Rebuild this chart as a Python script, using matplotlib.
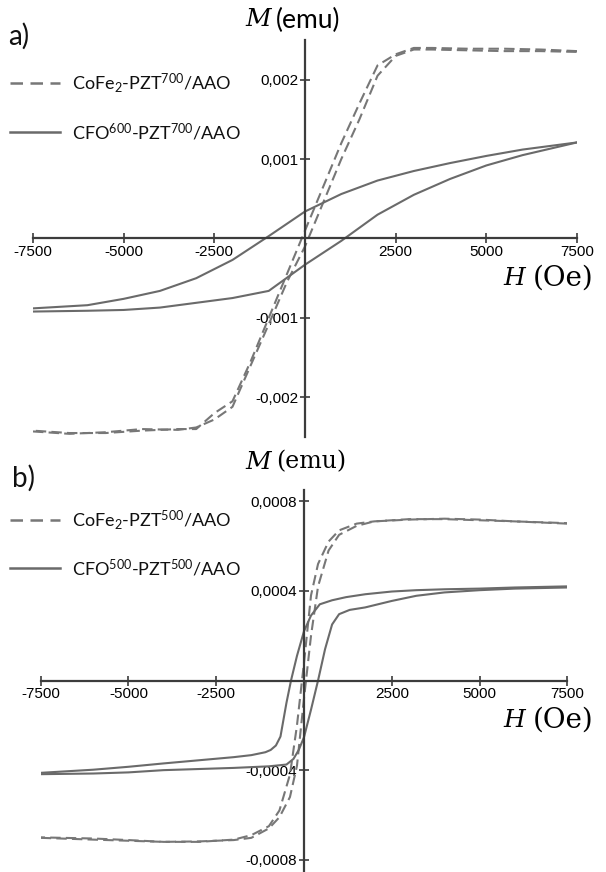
import matplotlib
matplotlib.use("Agg")
import matplotlib.pyplot as plt

# ---------------- data ----------------
# Panel a) CoFe2-PZT700/AAO (dashed)
a_cofe_desc_H = [7500, 6500, 5500, 4500, 3500, 3000, 2500, 2000, 1500, 1000, 500, 0,
                 -500, -1000, -1500, -2000, -2500, -3000, -3500, -4500, -5500, -6500, -7500]
a_cofe_desc_M = [0.00236, 0.00238, 0.00239, 0.00239, 0.0024, 0.0024, 0.00232, 0.00218, 0.0017,
                 0.0012, 0.00065, 0.0001, -0.00045, -0.001, -0.00155, -0.00205, -0.0022,
                 -0.0024, -0.0024, -0.00242, -0.00245, -0.00245, -0.00242]
a_cofe_asc_H = [-7500, -6500, -5500, -4500, -3500, -3000, -2500, -2000, -1500, -1000, -500, 0,
                500, 1000, 1500, 2000, 2500, 3000, 3500, 4500, 5500, 6500, 7500]
a_cofe_asc_M = [-0.00243, -0.00246, -0.00244, -0.0024, -0.00241, -0.00238, -0.00228, -0.00212,
                -0.0016, -0.00108, -0.00055, -0.0001, 0.00045, 0.001, 0.0015, 0.00205, 0.0023,
                0.00238, 0.00238, 0.00237, 0.00236, 0.00236, 0.00235]

# Panel a) CFO600-PZT700/AAO (solid)
a_cfo_desc_H = [7500, 6000, 5000, 4000, 3000, 2000, 1000, 0, -1000, -2000, -3000, -4000, -5000, -6000, -7500]
a_cfo_desc_M = [0.00121, 0.00112, 0.00104, 0.00095, 0.00085, 0.00073, 0.00056, 0.00034, 0.00003,
                -0.00027, -0.0005, -0.00066, -0.00076, -0.00084, -0.00088]
a_cfo_asc_H = [-7500, -6000, -5000, -4000, -3000, -2000, -1000, 0, 1000, 2000, 3000, 4000, 5000, 6000, 7500]
a_cfo_asc_M = [-0.00092, -0.00091, -0.0009, -0.00087, -0.00081, -0.00075, -0.00066, -0.00033,
               -0.00003, 0.0003, 0.00055, 0.00075, 0.00092, 0.00105, 0.00121]

# Panel b) CoFe2-PZT500/AAO (dashed)
b_cofe_desc_H = [7500, 6000, 5000, 4000, 3000, 2000, 1500, 1000, 700, 400, 200, 0,
                 -200, -400, -700, -1000, -1500, -2000, -3000, -4000, -5000, -6000, -7500]
b_cofe_desc_M = [0.0007, 0.00071, 0.000715, 0.00072, 0.00072, 0.00071, 0.0007, 0.00067, 0.00062,
                 0.00052, 0.00038, 0.00008, -0.0002, -0.00042, -0.00058, -0.00065, -0.00069,
                 -0.00071, -0.00072, -0.00072, -0.000712, -0.000705, -0.0007]
b_cofe_asc_H = [-7500, -6000, -5000, -4000, -3000, -2000, -1500, -1000, -700, -400, -200, 0,
                200, 400, 700, 1000, 1500, 2000, 3000, 4000, 5000, 6000, 7500]
b_cofe_asc_M = [-0.000702, -0.00071, -0.000715, -0.00072, -0.000718, -0.000712, -0.000702, -0.00066,
                -0.00061, -0.00052, -0.00038, -0.00008, 0.0002, 0.00042, 0.00058, 0.00065,
                0.00069, 0.00071, 0.000718, 0.000722, 0.000718, 0.00071, 0.000702]

# Panel b) CFO500-PZT500/AAO (solid)
b_cfo_desc_H = [7500, 6000, 5000, 4000, 3200, 2500, 1750, 1200, 800, 450, 200, 0, -200, -370,
                -500, -670, -800, -950, -1100, -1500, -2000, -3000, -4000, -5000, -6000, -7500]
b_cfo_desc_M = [0.00042, 0.000415, 0.00041, 0.000407, 0.000403, 0.000397, 0.000385, 0.000372,
                0.000358, 0.00034, 0.00029, 0.00022, 0.00011, 0.0, -0.0001, -0.00025, -0.00029,
                -0.00031, -0.00032, -0.000333, -0.000342, -0.000356, -0.00037, -0.000385,
                -0.000398, -0.000412]
b_cfo_asc_H = [-7500, -6000, -5000, -4000, -3000, -2000, -1000, -500, -300, -150, 0, 200, 400,
               600, 800, 1000, 1300, 1740, 2500, 3200, 4000, 5000, 6000, 7500]
b_cfo_asc_M = [-0.000418, -0.000415, -0.00041, -0.0004, -0.000395, -0.00039, -0.000383,
               -0.000375, -0.00035, -0.00031, -0.000253, -0.00013, 0.0, 0.00014, 0.00025,
               0.000296, 0.000315, 0.000326, 0.000355, 0.000378, 0.000393, 0.000403, 0.00041,
               0.000415]

x_ticks = [-7500, -5000, -2500, 0, 2500, 5000, 7500]
x_labels = ["-7500", "-5000", "-2500", "", "2500", "5000", "7500"]
a_y_ticks = [-0.002, -0.001, 0, 0.001, 0.002]
a_y_labels = ["-0,002", "-0,001", "", "0,001", "0,002"]
b_y_ticks = [-0.0008, -0.0004, 0, 0.0004, 0.0008]
b_y_labels = ["-0,0008", "-0,0004", "", "0,0004", "0,0008"]

legend_a = [r"CoFe$_2$-PZT$^{700}$/AAO", r"CFO$^{600}$-PZT$^{700}$/AAO"]
legend_b = [r"CoFe$_2$-PZT$^{500}$/AAO", r"CFO$^{500}$-PZT$^{500}$/AAO"]

# ---------------- style ----------------
plt.rcParams["mathtext.fontset"] = "custom"
plt.rcParams["mathtext.rm"] = "Lato"
plt.rcParams["mathtext.it"] = "Lato:italic"
TICKFONT = "Liberation Sans"
LEGFONT = "Lato"
AXC = "#3c3c3c"
CURVE = "#6a6a6a"
DASHC = "#777777"

W, Hh = 606, 872
fig = plt.figure(figsize=(W / 100, Hh / 100), dpi=100)


def rect(x0, x1, ytop, ybot):
    return [x0 / W, 1 - ybot / Hh, (x1 - x0) / W, (ybot - ytop) / Hh]


def style_axes(ax, ylim, yt, yl):
    ax.set_xlim(-7500, 7500)
    ax.set_ylim(*ylim)
    ax.patch.set_alpha(0)
    for s in ("top", "right"):
        ax.spines[s].set_visible(False)
    for s in ("left", "bottom"):
        ax.spines[s].set_position(("data", 0))
        ax.spines[s].set_color(AXC)
        ax.spines[s].set_linewidth(1.6)
    ax.set_xticks(x_ticks)
    ax.set_xticklabels(x_labels, fontfamily=TICKFONT, fontsize=11)
    ax.set_yticks(yt)
    ax.set_yticklabels(yl, fontfamily=TICKFONT, fontsize=11)
    ax.tick_params(direction="inout", length=7, width=1.2, color=AXC, pad=1.5)


axA = fig.add_axes(rect(33, 577, 40, 437))
style_axes(axA, (-0.0025, 0.0025), a_y_ticks, a_y_labels)
axB = fig.add_axes(rect(40.7, 567.3, 490, 871))
style_axes(axB, (-0.00085, 0.00085), b_y_ticks, b_y_labels)

dash = (0, (5, 2.5))
lw = 1.5
axA.plot(a_cofe_desc_H, a_cofe_desc_M, color=DASHC, lw=lw, linestyle=dash)
axA.plot(a_cofe_asc_H, a_cofe_asc_M, color=DASHC, lw=lw, linestyle=dash)
axA.plot(a_cfo_desc_H, a_cfo_desc_M, color=CURVE, lw=lw)
axA.plot(a_cfo_asc_H, a_cfo_asc_M, color=CURVE, lw=lw)

axB.plot(b_cofe_desc_H, b_cofe_desc_M, color=DASHC, lw=lw, linestyle=dash)
axB.plot(b_cofe_asc_H, b_cofe_asc_M, color=DASHC, lw=lw, linestyle=dash)
axB.plot(b_cfo_desc_H, b_cfo_desc_M, color=CURVE, lw=lw)
axB.plot(b_cfo_asc_H, b_cfo_asc_M, color=CURVE, lw=lw)

# overlay for labels and legends (pixel coordinates)
ov = fig.add_axes([0, 0, 1, 1])
ov.set_xlim(0, W)
ov.set_ylim(Hh, 0)
ov.axis("off")

SERIF = "DejaVu Serif"

# panel labels
ov.text(8, 36, "a)", fontsize=20, fontfamily=LEGFONT, va="center", ha="left", color="#111111")
ov.text(12, 478, "b)", fontsize=20, fontfamily=LEGFONT, va="center", ha="left", color="#111111")

# axis titles
ov.text(245, 20, "M", fontsize=18, fontfamily=SERIF, style="italic", va="center", ha="left")
ov.text(276, 20, "(emu)", fontsize=19, fontfamily=LEGFONT, va="center", ha="left")
ov.text(503, 278, "H", fontsize=18, fontfamily=SERIF, style="italic", va="center", ha="left")
ov.text(533, 278, "(Oe)", fontsize=20, fontfamily=SERIF, va="center", ha="left")

ov.text(245, 462, "M", fontsize=18, fontfamily=SERIF, style="italic", va="center", ha="left")
ov.text(276, 462, "(emu)", fontsize=17, fontfamily=SERIF, va="center", ha="left")
ov.text(503, 720, "H", fontsize=18, fontfamily=SERIF, style="italic", va="center", ha="left")
ov.text(533, 720, "(Oe)", fontsize=20, fontfamily=SERIF, va="center", ha="left")

# legends
def legend(y1, y2, labels):
    ov.plot([10, 60], [y1, y1], color=DASHC, lw=1.8, linestyle=(0, (5, 3)))
    ov.plot([10, 60], [y2, y2], color=CURVE, lw=1.8)
    ov.text(72, y1, labels[0], fontsize=13, fontfamily=LEGFONT, va="center", ha="left", color="#111111")
    ov.text(72, y2, labels[1], fontsize=13, fontfamily=LEGFONT, va="center", ha="left", color="#111111")


legend(83, 132, legend_a)
legend(520, 568, legend_b)

fig.savefig("out.png", dpi=100)
